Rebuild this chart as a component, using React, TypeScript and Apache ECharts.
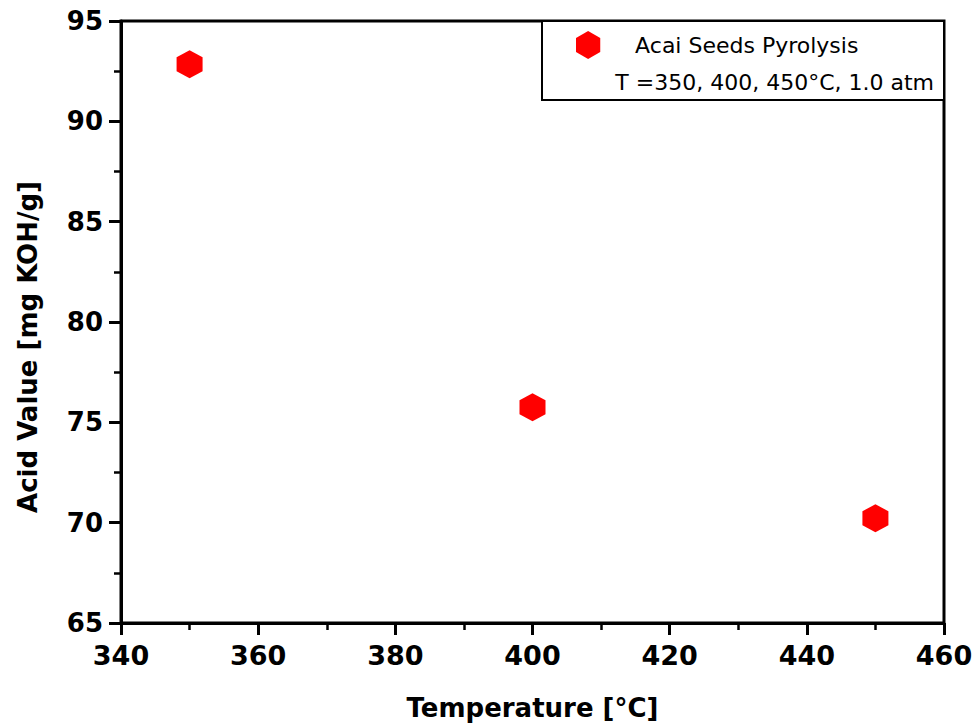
import React, { useEffect, useRef } from "react";
import * as echarts from "echarts";

const temperatures = [350, 400, 450];
const acidValues = [92.85, 75.75, 70.22];
const seriesName = "Acai Seeds Pyrolysis";
const conditionsText = "T =350, 400, 450°C, 1.0 atm";
const xTitle = "Temperature [°C]";
const yTitle = "Acid Value [mg KOH/g]";

const HEX = "path://M0,-1 L0.866,-0.5 L0.866,0.5 L0,1 L-0.866,0.5 L-0.866,-0.5 Z";
const FONT = "DejaVu Sans";

export default function App() {
  const ref = useRef<HTMLDivElement>(null);
  useEffect(() => {
    if (!ref.current) return;
    const chart = echarts.init(ref.current, undefined, { renderer: "svg" });
    const data = temperatures.map((t, i) => [t, acidValues[i]]);
    chart.setOption({
      animation: false,
      backgroundColor: "#fff",
      grid: {
        left: 121,
        right: 35,
        top: 21,
        bottom: 104,
        show: true,
        borderColor: "#000",
        borderWidth: 3,
        backgroundColor: "transparent",
      },
      xAxis: {
        type: "value",
        min: 340,
        max: 460,
        interval: 20,
        name: xTitle,
        nameLocation: "middle",
        nameGap: 72,
        nameTextStyle: { fontFamily: FONT, fontSize: 26, fontWeight: "bold", color: "#000" },
        axisLine: { show: true, onZero: false, lineStyle: { color: "#000", width: 3 } },
        axisTick: { show: true, inside: false, length: 12, lineStyle: { color: "#000", width: 3 } },
        minorTick: { show: true, splitNumber: 2, length: 7, lineStyle: { color: "#000", width: 2.5 } },
        splitLine: { show: false },
        axisLabel: { fontFamily: FONT, fontSize: 27, fontWeight: "bold", color: "#000", margin: 19 },
      },
      yAxis: {
        type: "value",
        min: 65,
        max: 95,
        interval: 5,
        name: yTitle,
        nameLocation: "middle",
        nameGap: 80,
        nameTextStyle: {
          fontFamily: FONT,
          fontSize: 26,
          fontWeight: "bold",
          color: "#000",
          padding: [0, 50, 0, 0],
        },
        axisLine: { show: true, onZero: false, lineStyle: { color: "#000", width: 3 } },
        axisTick: { show: true, inside: false, length: 12, lineStyle: { color: "#000", width: 3 } },
        minorTick: { show: true, splitNumber: 2, length: 7, lineStyle: { color: "#000", width: 2.5 } },
        splitLine: { show: false },
        axisLabel: { fontFamily: FONT, fontSize: 26, fontWeight: "bold", color: "#000", margin: 18 },
      },
      legend: {
        show: true,
        left: 576,
        top: 31,
        itemWidth: 26,
        itemHeight: 28,
        padding: 0,
        data: [{ name: seriesName, icon: HEX, itemStyle: { color: "#ff0000", opacity: 1 } }],
        textStyle: { fontFamily: FONT, fontSize: 22, color: "#000", padding: [0, 0, 0, 29] },
      },
      graphic: [
        {
          type: "rect",
          left: 541,
          top: 20,
          z: 0,
          shape: { width: 402, height: 79 },
          style: { fill: "#fff", stroke: "#000", lineWidth: 2 },
        },
        {
          type: "text",
          right: 979 - 934,
          top: 71,
          z: 10,
          style: { text: conditionsText, fontFamily: FONT, fontSize: 22, fill: "#000" },
        },
      ],
      series: [
        {
          name: seriesName,
          type: "scatter",
          data,
          symbol: HEX,
          symbolSize: [26, 28],
          itemStyle: { color: "#ff0000", opacity: 1 },
          z: 5,
        },
      ],
    });
    return () => chart.dispose();
  }, []);
  return <div ref={ref} style={{ width: 979, height: 727, position: "absolute", left: 0, top: 0 }} />;
}
